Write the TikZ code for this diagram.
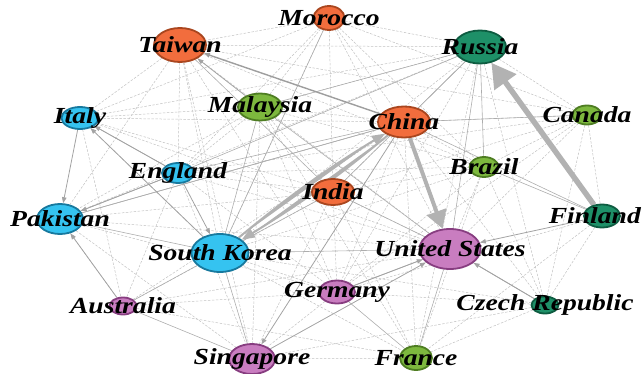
\documentclass[tikz,border=0pt]{standalone}
\usepackage{fontspec}
\setmainfont{Liberation Serif}
\usetikzlibrary{shapes.geometric,arrows.meta,backgrounds}

\definecolor{asiaFill}{HTML}{F26D3D}
\definecolor{asiaLine}{HTML}{A9461F}
\definecolor{northFill}{HTML}{1E9068}
\definecolor{northLine}{HTML}{0E5C41}
\definecolor{limeFill}{HTML}{7DB83E}
\definecolor{limeLine}{HTML}{4E7D22}
\definecolor{skyFill}{HTML}{35C3F0}
\definecolor{skyLine}{HTML}{17799E}
\definecolor{plumFill}{HTML}{C97DC0}
\definecolor{plumLine}{HTML}{873D80}

\tikzset{
  country/.style={ellipse, line width=1.8pt, inner sep=0pt},
  asia/.style={country, fill=asiaFill, draw=asiaLine},
  north/.style={country, fill=northFill, draw=northLine},
  lime/.style={country, fill=limeFill, draw=limeLine},
  sky/.style={country, fill=skyFill, draw=skyLine},
  plum/.style={country, fill=plumFill, draw=plumLine},
  every label/.style={font=\fontsize{23}{23}\selectfont\bfseries\itshape, xscale=1.2, inner sep=0pt},
  linkweak/.style={draw=black!24, line width=0.5pt, dash pattern=on 2.5pt off 1.5pt},
  linksolid/.style={draw=black!32, line width=0.6pt},
  linkarrow/.style={draw=black!36, line width=0.8pt, -{Triangle[length=6pt,width=4.5pt]}},
  linkheavy/.style={draw=black!30, fill=black!30}
}

\begin{document}
\begin{tikzpicture}[x=1pt, y=-1pt]
\useasboundingbox (0,0) rectangle (644,374);

% countries
\node[asia, minimum width=31pt, minimum height=24pt, label={center:Morocco}] (mor) at (329,18) {};
\node[asia, minimum width=52pt, minimum height=34pt, label={center:Taiwan}] (tai) at (180,45) {};
\node[north, minimum width=52pt, minimum height=33pt, label={center:Russia}] (rus) at (480,47) {};
\node[lime, minimum width=44pt, minimum height=27pt, label={center:Malaysia}] (mal) at (260,107) {};
\node[sky, minimum width=37pt, minimum height=22pt, label={center:Italy}] (ita) at (80,118) {};
\node[lime, minimum width=29pt, minimum height=19pt, label={center:Canada}] (can) at (587,115) {};
\node[asia, minimum width=52pt, minimum height=31pt, label={center:China}] (chi) at (404,122) {};
\node[sky, minimum width=32pt, minimum height=20pt, label={center:England}] (eng) at (178,173) {};
\node[lime, minimum width=29pt, minimum height=20pt, label={center:Brazil}] (bra) at (484,167) {};
\node[asia, minimum width=42pt, minimum height=26pt, label={center:India}] (ind) at (333,192) {};
\node[sky, minimum width=46pt, minimum height=30pt, label={center:Pakistan}] (pak) at (60,219) {};
\node[sky, minimum width=57pt, minimum height=38pt, label={center:South Korea}] (sko) at (220,253) {};
\node[north, minimum width=36pt, minimum height=23pt, label={[xshift=-6pt]center:Finland}] (fin) at (602,216) {};
\node[plum, minimum width=61pt, minimum height=40pt, label={center:United States}] (usa) at (450,249) {};
\node[plum, minimum width=36pt, minimum height=23pt, label={center:Germany}] (ger) at (337,292) {};
\node[plum, minimum width=27pt, minimum height=17pt, label={center:Australia}] (aus) at (123,306) {};
\node[north, minimum width=27pt, minimum height=17pt, label={center:Czech Republic}] (cze) at (545,305) {};
\node[plum, minimum width=46pt, minimum height=30pt, label={center:Singapore}] (sin) at (252,359) {};
\node[lime, minimum width=32pt, minimum height=24pt, label={center:France}] (fra) at (416,358) {};

\begin{scope}[on background layer]
% faint ties
\foreach \a/\b in {mor/tai, mor/rus, mor/mal, mor/chi, mor/ind, mor/bra, mor/usa, mor/sko, mor/eng, mor/ita, mor/can,
  tai/rus, tai/ita, tai/eng, tai/pak, tai/sko, tai/usa, tai/bra, tai/sin, tai/can, tai/ger,
  rus/mal, rus/can, rus/ita, rus/pak, rus/sko, rus/fin, rus/cze, rus/fra, rus/ger,
  mal/ita, mal/eng, mal/pak, mal/chi, mal/ind, mal/sin, mal/bra, mal/ger, mal/fra,
  ita/chi, ita/sko, ita/usa, ita/aus, ita/ind,
  can/chi, can/bra, can/fin, can/usa, can/cze, can/ind, can/eng, can/ger,
  chi/bra, chi/ind, chi/ger, chi/fra, chi/cze, chi/aus,
  eng/ind, eng/usa, eng/aus, eng/sin, eng/ger, eng/bra,
  bra/ind, bra/usa, bra/ger, bra/fra, bra/cze, bra/sko,
  ind/pak, ind/usa, ind/ger, ind/sin, ind/fra, ind/aus,
  pak/aus, pak/sin, pak/usa, pak/ger,
  sko/ger, sko/fra, sko/cze,
  fin/cze, fin/fra, fin/ger,
  usa/cze, usa/aus,
  ger/sin, ger/aus, ger/cze,
  aus/fra, cze/fra, cze/sin, sin/fra}
  \draw[linkweak] (\a) -- (\b);
% plain ties
\foreach \a/\b in {tai/ind, mor/sko, rus/chi, rus/usa, rus/bra, rus/ind, rus/eng, rus/mal,
  chi/eng, chi/pak, chi/fin, mal/usa, mal/sko, pak/sko, sko/usa, ind/sko,
  aus/sko, aus/sin, sko/sin, usa/fra, ger/fra, fin/bra, cze/usa, usa/ger,
  eng/pak, ita/eng, can/chi, ind/usa, pak/chi}
  \draw[linksolid] (\a) -- (\b);
% directed ties
\foreach \a/\b in {eng/ita, sko/ita, ita/pak, eng/pak, aus/pak, eng/sko,
  sin/usa, chi/sin, fin/usa, ger/usa, mal/tai, cze/usa}
  \draw[linkarrow] (\a) -- (\b);
\draw[linkarrow, draw=black!38, line width=1.4pt] (chi) -- (tai);
% strong ties
\draw[linkheavy, line width=2pt, -{Triangle[length=13pt,width=10pt]}] (sko) to[bend left=4] (chi);
\draw[linkheavy, line width=2pt, -{Triangle[length=13pt,width=10pt]}] (chi) to[bend left=4] (sko);
\draw[linkheavy, line width=4pt, -{Triangle[length=18pt,width=20pt]}] (chi) -- (usa);
\draw[linkheavy, line width=5.5pt, -{Triangle[length=24pt,width=26pt]}] (fin) -- (rus);
\end{scope}
\end{tikzpicture}
\end{document}
